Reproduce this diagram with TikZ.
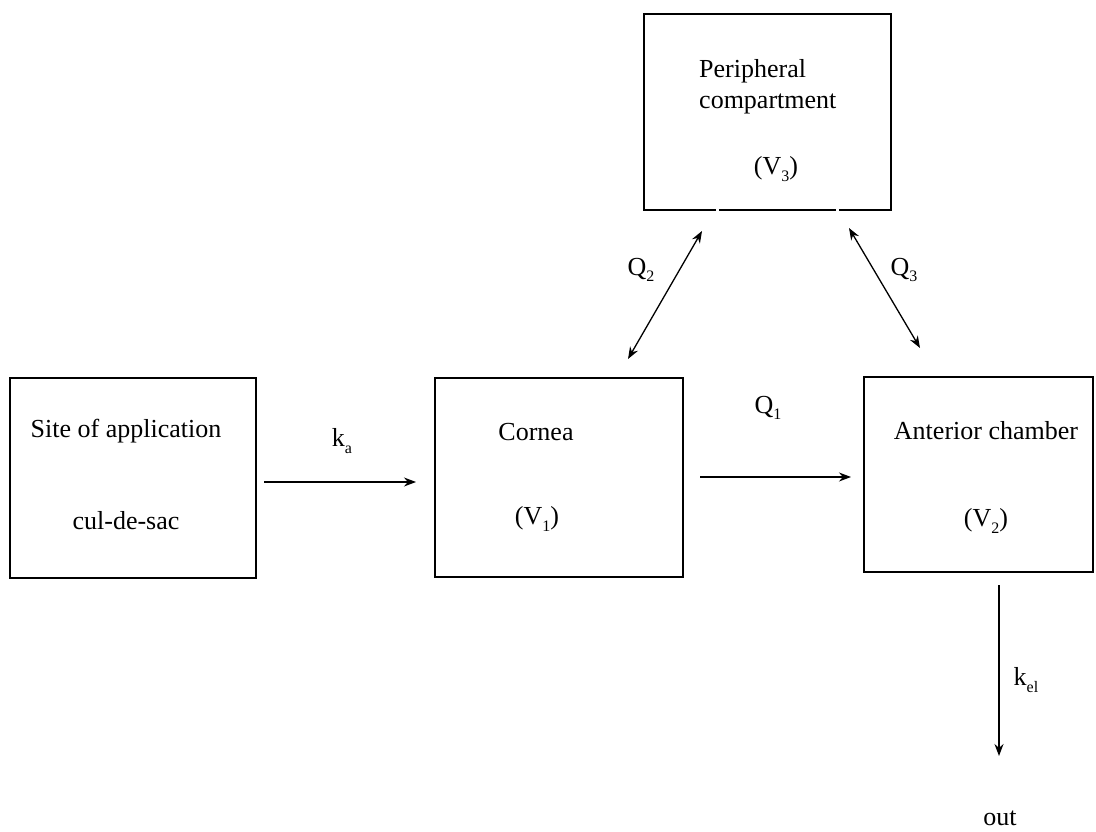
\documentclass[tikz,border=0pt]{standalone}
\usepackage{fontspec}
\setmainfont{Liberation Serif}
\usetikzlibrary{arrows.meta}
\newcommand{\mysub}[1]{\raisebox{-0.25em}{\fontsize{16}{18}\selectfont #1}}
\begin{document}
\begin{tikzpicture}[x=1pt,y=-1pt,
  box/.style={draw, line width=1.3pt, inner sep=0pt},
  lbl/.style={font=\fontsize{26}{31}\selectfont, inner sep=0pt},
  conn/.style={line width=1.3pt, -{Stealth[length=12pt,width=9pt]}},
  dconn/.style={line width=1.3pt, {Stealth[length=12pt,width=9pt]}-{Stealth[length=12pt,width=9pt]}}]
\useasboundingbox (0,0) rectangle (1096,832);
% boxes
\node[box, minimum width=246pt, minimum height=200pt] (site) at (133,478) {};
\node[box, minimum width=248pt, minimum height=199pt] (cornea) at (559,477.5) {};
\node[box, minimum width=229pt, minimum height=195pt] (ac) at (978.5,474.5) {};
\node[box, minimum width=247pt, minimum height=196pt] (pc) at (767.5,112) {};
\draw[white, line width=3pt] (715.5,210) -- (718.5,210) (835.5,210) -- (838.5,210);
% texts
\node[lbl] (t1) at (126,431) {Site of application};
\node[lbl] (t2) at (126,521) {cul-de-sac};
\node[lbl] (t3) at (536,432) {Cornea};
\node[lbl] (t4) at (537,519) {(V\mysub{1})};
\node[lbl] (t5) at (986,431) {Anterior chamber};
\node[lbl] (t6) at (986,521) {(V\mysub{2})};
\node[lbl, anchor=north west, align=left] (t7) at (699,59) {Peripheral\\compartment};
\node[lbl] (t8) at (776,169) {(V\mysub{3})};
% coordinates for connectors
\coordinate (ka1) at (264,482);
\coordinate (ka2) at (416,482);
\coordinate (q11) at (700,477);
\coordinate (q12) at (851,477);
\coordinate (q21) at (628,359);
\coordinate (q22) at (702,231);
\coordinate (q31) at (849,228);
\coordinate (q32) at (920,348);
\coordinate (ke1) at (999,585);
\coordinate (ke2) at (999,756);
\draw[conn] (ka1) -- (ka2);
\draw[conn] (q11) -- (q12);
\draw[dconn] (q21) -- (q22);
\draw[dconn] (q31) -- (q32);
\draw[conn] (ke1) -- (ke2);
% connector labels
\node[lbl] (lka) at (342,441) {k\mysub{a}};
\node[lbl] (lq1) at (768,408) {Q\mysub{1}};
\node[lbl] (lq2) at (641,270) {Q\mysub{2}};
\node[lbl] (lq3) at (904,270) {Q\mysub{3}};
\node[lbl] (lke) at (1026,680) {k\mysub{el}};
\node[lbl] (out) at (1000,818) {out};
\end{tikzpicture}
\end{document}
